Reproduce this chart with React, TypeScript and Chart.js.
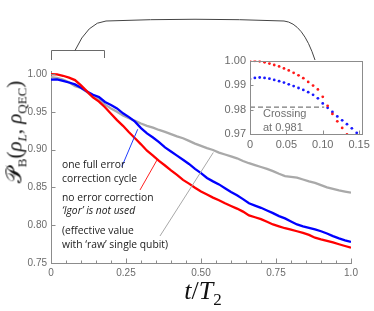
import React, { useEffect, useRef } from "react";
import { Chart, registerables } from "chart.js";
Chart.register(...registerables);

// ---------- main chart data ----------
const tMain = [
  0, 0.02, 0.04, 0.06, 0.08, 0.1, 0.12, 0.14, 0.16, 0.18, 0.2, 0.22, 0.24, 0.26, 0.28, 0.3, 0.32,
  0.34, 0.36, 0.38, 0.4, 0.42, 0.44, 0.46, 0.48, 0.5, 0.52, 0.54, 0.56, 0.58, 0.6, 0.62, 0.64,
  0.66, 0.68, 0.7, 0.72, 0.74, 0.76, 0.78, 0.8, 0.82, 0.84, 0.86, 0.88, 0.9, 0.92, 0.94, 0.96,
  0.98, 1.0,
];
const redMain = [
  1.0, 0.9994, 0.9977, 0.9953, 0.992, 0.985, 0.977, 0.969, 0.9635, 0.956, 0.9475, 0.939, 0.9315,
  0.923, 0.915, 0.907, 0.8985, 0.892, 0.885, 0.879, 0.8725, 0.8665, 0.86, 0.855, 0.8495, 0.8445,
  0.8405, 0.8365, 0.833, 0.829, 0.8255, 0.822, 0.818, 0.813, 0.8105, 0.808, 0.8045, 0.801, 0.7985,
  0.796, 0.7942, 0.792, 0.7898, 0.7872, 0.7835, 0.7812, 0.7792, 0.7772, 0.7748, 0.7725, 0.7702,
];
const blueMain = [
  0.9927, 0.9928, 0.991, 0.9888, 0.9863, 0.9818, 0.977, 0.9725, 0.9695, 0.963, 0.959, 0.9545,
  0.948, 0.943, 0.937, 0.9285, 0.9215, 0.916, 0.91, 0.903, 0.8975, 0.892, 0.8865, 0.881, 0.8745,
  0.869, 0.8625, 0.858, 0.854, 0.849, 0.844, 0.8395, 0.8345, 0.829, 0.826, 0.823, 0.8195, 0.816,
  0.812, 0.809, 0.805, 0.801, 0.7985, 0.7965, 0.7945, 0.792, 0.789, 0.7855, 0.7825, 0.78, 0.778,
];
const grayMain = [
  0.996, 0.995, 0.9925, 0.989, 0.984, 0.9815, 0.976, 0.97, 0.966, 0.9595, 0.9545, 0.95, 0.945,
  0.9415, 0.938, 0.9345, 0.9315, 0.929, 0.926, 0.9235, 0.9205, 0.9175, 0.915, 0.9115, 0.908, 0.905,
  0.902, 0.8995, 0.896, 0.8935, 0.891, 0.8885, 0.885, 0.882, 0.8795, 0.877, 0.8745, 0.8715, 0.868,
  0.865, 0.864, 0.863, 0.8605, 0.858, 0.856, 0.853, 0.85, 0.848, 0.846, 0.8445, 0.843,
];
const xTickVals = [0, 0.25, 0.5, 0.75, 1.0];
const xTickLabels = ["0", "0.25", "0.50", "0.75", "1.0"];
const xMinorVals = [0.05, 0.1, 0.15, 0.2, 0.3, 0.35, 0.4, 0.45, 0.55, 0.6, 0.65, 0.7, 0.8, 0.85, 0.9, 0.95];
const yTickVals = [0.75, 0.8, 0.85, 0.9, 0.95, 1.0];
const yTickLabels = ["0.75", "0.80", "0.85", "0.90", "0.95", "1.00"];

// ---------- inset data ----------
const tInset = [
  0, 0.0067, 0.0133, 0.02, 0.0267, 0.0333, 0.04, 0.0467, 0.0533, 0.06, 0.0667, 0.0733, 0.08,
  0.0867, 0.0933, 0.1, 0.1067, 0.1133, 0.12, 0.1267, 0.1333, 0.14, 0.1467,
];
const redInset = [
  1.0, 0.9999, 0.9997, 0.9993, 0.9988, 0.9982, 0.9976, 0.9968, 0.996, 0.995, 0.994, 0.9928,
  0.9913, 0.9898, 0.9882, 0.9852, 0.9815, 0.9782, 0.9752, 0.9725, 0.9698,
];
const blueInset = [
  0.9925, 0.9929, 0.9931, 0.9929, 0.9926, 0.9921, 0.9916, 0.991, 0.9903, 0.9896, 0.9888, 0.988,
  0.9871, 0.986, 0.9846, 0.9825, 0.9807, 0.979, 0.9772, 0.9756, 0.974, 0.9723, 0.9705,
];
const insetXTicks = [0, 0.05, 0.1, 0.15];
const insetXLabels = ["0", "0.05", "0.10", "0.15"];
const insetYTicks = [0.97, 0.98, 0.99, 1.0];
const insetYLabels = ["0.97", "0.98", "0.99", "1.00"];
const crossingValue = 0.981;
const crossingT = 0.102;

// annotation leader lines (data units of main chart)
const leaders = [
  { color: "#1f3cff", t0: 0.236, v0: 0.8774, t1: 0.289, v1: 0.9269 },
  { color: "#ff2020", t0: 0.2967, v0: 0.8466, t1: 0.3533, v1: 0.8862 },
  { color: "#a8a8a8", t0: 0.3633, v0: 0.7857, t1: 0.541, v1: 0.8962 },
];
const bracketEndT = 0.177;

const AX = "#8c8c8c";
const TC = "#6b6b6b";
const tickFont = { family: "'Liberation Sans', Arial, sans-serif", size: 10 };

function pts(ts: number[], vs: number[]) {
  return vs.map((v, i) => ({ x: ts[i], y: v }));
}

const line = (ctx: CanvasRenderingContext2D, x0: number, y0: number, x1: number, y1: number) => {
  ctx.beginPath();
  ctx.moveTo(x0, y0);
  ctx.lineTo(x1, y1);
  ctx.stroke();
};

export default function App() {
  const mainRef = useRef<HTMLCanvasElement>(null);
  const insetRef = useRef<HTMLCanvasElement>(null);

  useEffect(() => {
    const mainDecor = {
      id: "mainDecor",
      afterDraw(chart: any) {
        const { ctx, scales } = chart;
        const x = scales.x, y = scales.y;
        ctx.save();
        ctx.strokeStyle = AX;
        ctx.lineWidth = 1;
        xTickVals.forEach((v) => {
          const px = Math.round(x.getPixelForValue(v)) + 0.5;
          line(ctx, px, y.bottom, px, y.bottom - 4.5);
        });
        xMinorVals.forEach((v) => {
          const px = Math.round(x.getPixelForValue(v)) + 0.5;
          line(ctx, px, y.bottom, px, y.bottom - 2.5);
        });
        yTickVals.forEach((v) => {
          const py = Math.round(y.getPixelForValue(v)) + 0.5;
          line(ctx, x.left, py, x.left + 4.5, py);
        });
        leaders.forEach((l) => {
          ctx.strokeStyle = l.color;
          ctx.lineWidth = 1;
          line(ctx, x.getPixelForValue(l.t0), y.getPixelForValue(l.v0), x.getPixelForValue(l.t1), y.getPixelForValue(l.v1));
        });
        // bracket
        const bx0 = Math.round(x.getPixelForValue(0)) + 0.5;
        const bx1 = Math.round(x.getPixelForValue(bracketEndT)) + 0.5;
        ctx.strokeStyle = "#6a6a6a";
        ctx.beginPath();
        ctx.moveTo(bx0, 60);
        ctx.lineTo(bx0, 50.5);
        ctx.lineTo(bx1, 50.5);
        ctx.lineTo(bx1, 58);
        ctx.stroke();
        // connector
        ctx.strokeStyle = "#444";
        ctx.beginPath();
        ctx.moveTo(75, 50.5);
        ctx.quadraticCurveTo(88, 22, 106, 21);
        ctx.quadraticCurveTo(195, 17.5, 284, 21);
        ctx.quadraticCurveTo(303, 23, 315, 60);
        ctx.stroke();
        ctx.restore();
      },
    };

    const main = new Chart(mainRef.current!, {
      type: "line",
      data: {
        datasets: [
          { data: pts(tMain, redMain), borderColor: "#ff0000", borderWidth: 2.3, pointRadius: 0, order: 0 },
          { data: pts(tMain, blueMain), borderColor: "#0000ff", borderWidth: 2.3, pointRadius: 0, order: 1 },
          { data: pts(tMain, grayMain), borderColor: "#a9a9a9", borderWidth: 2.3, pointRadius: 0, order: 2 },
        ],
      },
      options: {
        animation: false,
        responsive: false,
        devicePixelRatio: 1,
        layout: { padding: { left: 0, right: 23, top: 71, bottom: 0 } },
        plugins: { legend: { display: false }, tooltip: { enabled: false } },
        scales: {
          x: {
            type: "linear",
            min: 0,
            max: 1,
            grid: { display: false, drawTicks: false },
            border: { display: true, color: AX, width: 1 },
            afterBuildTicks: (s: any) => { s.ticks = xTickVals.map((v) => ({ value: v })); },
            afterFit: (s: any) => { s.height = 48; },
            ticks: { autoSkip: false, maxRotation: 0, padding: 4, color: TC, font: tickFont, callback: (_v: any, i: number) => xTickLabels[i] },
          },
          y: {
            type: "linear",
            min: 0.75,
            max: 1.004,
            grid: { display: false, drawTicks: false },
            border: { display: true, color: AX, width: 1 },
            afterBuildTicks: (s: any) => { s.ticks = yTickVals.map((v) => ({ value: v })); },
            afterFit: (s: any) => { s.width = 51; },
            ticks: { autoSkip: false, padding: 4, color: TC, font: tickFont, callback: (_v: any, i: number) => yTickLabels[i] },
          },
        },
      },
      plugins: [mainDecor],
    } as any);

    const insetDecor = {
      id: "insetDecor",
      beforeDatasetsDraw(chart: any) {
        const { ctx, scales } = chart;
        const x = scales.x, y = scales.y;
        ctx.save();
        ctx.strokeStyle = "#7a7a7a";
        ctx.lineWidth = 1.2;
        ctx.setLineDash([5, 3]);
        const py = y.getPixelForValue(crossingValue);
        line(ctx, x.getPixelForValue(0), py, x.getPixelForValue(crossingT), py);
        ctx.restore();
      },
      afterDraw(chart: any) {
        const { ctx, scales, chartArea: a } = chart;
        const x = scales.x, y = scales.y;
        ctx.save();
        ctx.strokeStyle = AX;
        ctx.lineWidth = 1;
        ctx.strokeRect(Math.round(a.left) + 0.5, Math.round(a.top) + 0.5, Math.round(a.right - a.left), Math.round(a.bottom - a.top));
        insetXTicks.forEach((v) => {
          const px = Math.round(x.getPixelForValue(v)) + 0.5;
          line(ctx, px, a.bottom, px, a.bottom - 3.5);
        });
        insetYTicks.forEach((v) => {
          const p = Math.round(y.getPixelForValue(v)) + 0.5;
          line(ctx, a.left, p, a.left + 3.5, p);
        });
        ctx.restore();
      },
    };

    const inset = new Chart(insetRef.current!, {
      type: "scatter",
      data: {
        datasets: [
          { data: pts(tInset, redInset), backgroundColor: "#ff1a1a", borderWidth: 0, pointRadius: 1.4 },
          { data: pts(tInset, blueInset), backgroundColor: "#1a1aff", borderWidth: 0, pointRadius: 1.4 },
        ],
      },
      options: {
        animation: false,
        responsive: false,
        devicePixelRatio: 1,
        layout: { padding: { left: 0, right: 7, top: 10, bottom: 0 } },
        plugins: { legend: { display: false }, tooltip: { enabled: false } },
        scales: {
          x: {
            type: "linear",
            min: 0,
            max: 0.154,
            grid: { display: false, drawTicks: false },
            border: { display: false },
            afterBuildTicks: (s: any) => { s.ticks = insetXTicks.map((v) => ({ value: v })); },
            afterFit: (s: any) => { s.height = 21; },
            ticks: { autoSkip: false, maxRotation: 0, padding: 4, color: TC, font: { ...tickFont, size: 11 }, callback: (_v: any, i: number) => insetXLabels[i] },
          },
          y: {
            type: "linear",
            min: 0.97,
            max: 1.0,
            grid: { display: false, drawTicks: false },
            border: { display: false },
            afterBuildTicks: (s: any) => { s.ticks = insetYTicks.map((v) => ({ value: v })); },
            afterFit: (s: any) => { s.width = 45; },
            ticks: { autoSkip: false, padding: 4, color: TC, font: { ...tickFont, size: 11 }, callback: (_v: any, i: number) => insetYLabels[i] },
          },
        },
      },
      plugins: [insetDecor],
    } as any);

    return () => {
      main.destroy();
      inset.destroy();
    };
  }, []);

  const ann: React.CSSProperties = {
    position: "absolute",
    left: 62,
    fontFamily: "'Open Sans', sans-serif",
    fontSize: 10.3,
    lineHeight: "14px",
    color: "#1a1a1a",
    whiteSpace: "nowrap",
  };
  const annLines: [string, number, boolean][] = [
    ["one full error", 164, false],
    ["correction cycle", 178, false],
    ["no error correction", 197, false],
    ["\u2018Igor\u2019 is not used", 209.5, true],
    ["(effective value", 230, false],
    ["with \u2018raw\u2019 single qubit)", 244, false],
  ];

  return (
    <div style={{ position: "absolute", left: 0, top: 0, width: 374, height: 311, background: "#fff", overflow: "hidden" }}>
      <canvas ref={mainRef} width={374} height={311} style={{ position: "absolute", left: 0, top: 0, width: 374, height: 311 }} />
      <canvas ref={insetRef} width={169} height={105} style={{ position: "absolute", left: 205, top: 50, width: 169, height: 105 }} />
      {annLines.map(([txt, cy, it]) => (
        <div key={txt} style={{ ...ann, top: cy - 7, fontStyle: it ? "italic" : "normal" }}>{txt}</div>
      ))}
      <div style={{ position: "absolute", left: 263, top: 106, fontFamily: "'Liberation Sans', Arial, sans-serif", fontSize: 11, lineHeight: "14px", color: "#707070", whiteSpace: "nowrap" }}>
        Crossing
        <br />
        at 0.981
      </div>
      <div
        style={{
          position: "absolute",
          left: 16,
          top: 132,
          transform: "translate(-50%, -50%) rotate(-90deg)",
          fontFamily: "'Liberation Serif', 'DejaVu Serif', serif",
          fontSize: 21,
          lineHeight: 1,
          color: "#111",
          whiteSpace: "nowrap",
        }}
      >
        <span style={{ fontFamily: "'DejaVu Serif', 'DejaVu Sans', serif", fontSize: 22 }}>𝒫</span>
        <sub style={{ fontSize: 13 }}>B</sub>(<i>ρ</i>
        <sub style={{ fontSize: 13 }}><i>L</i></sub>, <i>ρ</i>
        <sub style={{ fontSize: 13 }}>QEC</sub>)
      </div>
      <div
        style={{
          position: "absolute",
          left: 203,
          top: 293,
          transform: "translate(-50%, -50%)",
          fontFamily: "'Liberation Serif', 'DejaVu Serif', serif",
          fontSize: 26,
          lineHeight: 1,
          color: "#111",
          whiteSpace: "nowrap",
        }}
      >
        <i>t</i>/<i>T</i>
        <sub style={{ fontSize: 17 }}>2</sub>
      </div>
    </div>
  );
}
